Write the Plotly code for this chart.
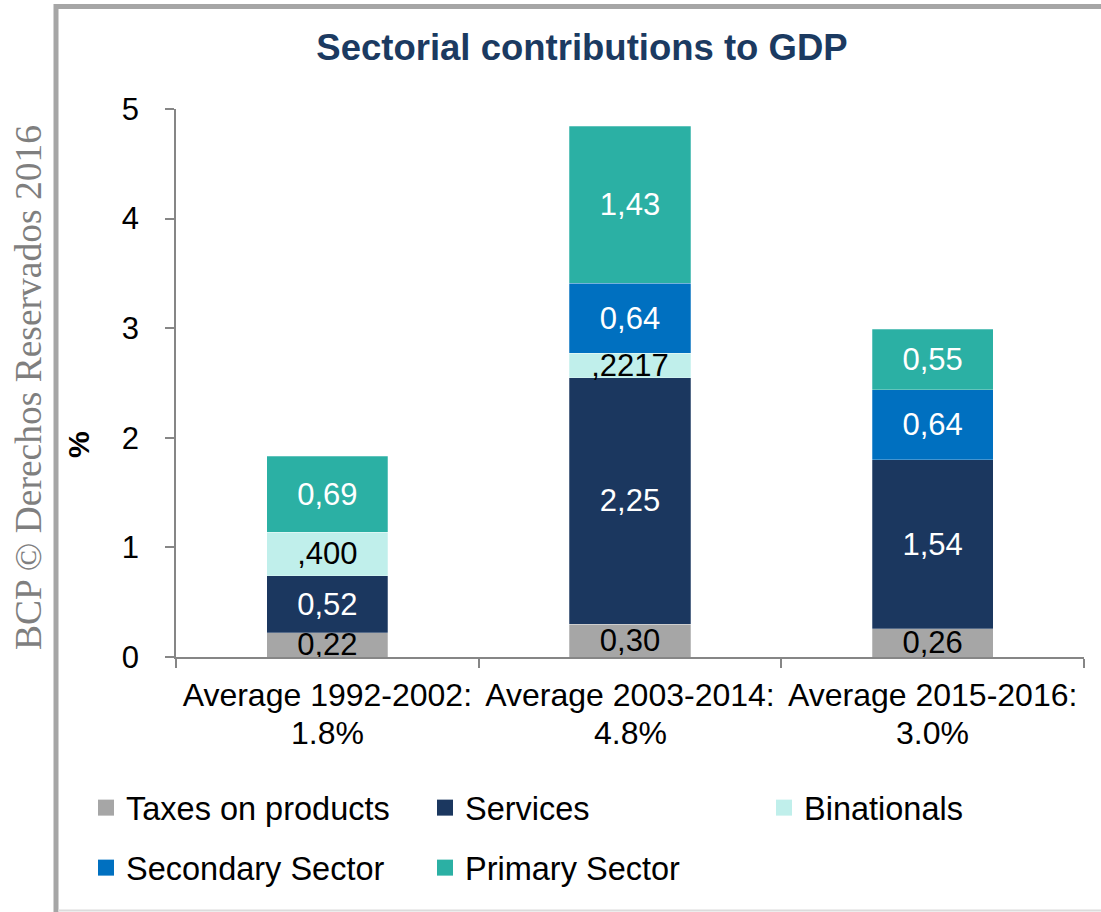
import plotly.graph_objects as go

# Periods on the x axis and their average GDP growth
periods = ["Average 1992-2002:", "Average 2003-2014:", "Average 2015-2016:"]
growth = ["1.8%", "4.8%", "3.0%"]

# Contributions to GDP growth (percentage points), stacked bottom to top
taxes = [0.22, 0.30, 0.26]
services = [0.52, 2.25, 1.54]
binationals = [0.400, 0.2217, None]
secondary = [None, 0.64, 0.64]
primary = [0.69, 1.43, 0.55]

# Binationals labels keep their own number format
binationals_text = [",400", ",2217", ""]

y_ticks = [0, 1, 2, 3, 4, 5]

FONT = "Liberation Sans"
W, H = 1101, 912
PL, PR, PT, PB = 176, 1084, 109, 657  # plot area in pixels


def comma(vals):
    return ["" if v is None else f"{v:.2f}".replace(".", ",") for v in vals]


def px_x(p):
    return (p - PL) / (PR - PL)


def px_y(p):
    return (PB - p) / (PB - PT)


series = [
    ("Taxes on products", taxes, comma(taxes), "#A6A6A6", "#000000", "legend"),
    ("Services", services, comma(services), "#1B375F", "#FFFFFF", "legend"),
    ("Binationals", binationals, binationals_text, "#C0EFEB", "#000000", "legend"),
    ("Secondary Sector", secondary, comma(secondary), "#0070C0", "#FFFFFF", "legend2"),
    ("Primary Sector", primary, comma(primary), "#2BB0A4", "#FFFFFF", "legend2"),
]

fig = go.Figure()

for name, vals, text, color, tcolor, leg in series:
    fig.add_trace(go.Bar(
        x=periods, y=vals, name=name, text=text,
        marker=dict(color=color, line=dict(width=0.75, color="rgba(255,255,255,0.35)")),
        textposition="inside", insidetextanchor="middle", constraintext="none",
        textangle=0, cliponaxis=False,
        textfont=dict(family=FONT, size=31, color=tcolor),
        width=0.4, showlegend=False, hoverinfo="skip",
    ))

# Legend entries with larger square swatches
for name, vals, text, color, tcolor, leg in series:
    fig.add_trace(go.Scatter(
        x=[None], y=[None], mode="markers", name=name, legend=leg,
        marker=dict(symbol="square", size=17, color=color, line=dict(width=0)),
        showlegend=True, hoverinfo="skip",
    ))

axis_grey = "#868686"
legend_common = dict(
    orientation="h", xref="paper", yref="paper",
    x=px_x(86), xanchor="left", yanchor="middle",
    entrywidth=294, entrywidthmode="pixels",
    font=dict(family=FONT, size=32.5, color="#000000"),
    bgcolor="rgba(0,0,0,0)", itemclick=False, itemdoubleclick=False,
    traceorder="normal",
)

fig.update_layout(
    width=W, height=H,
    margin=dict(l=PL, r=W - PR, t=PT, b=H - PB, pad=0, autoexpand=False),
    paper_bgcolor="white", plot_bgcolor="white",
    barmode="stack", bargap=0.6,
    font=dict(family=FONT, size=31, color="#000000"),
    title=dict(
        text="Sectorial contributions to GDP",
        x=582 / W, xref="container", xanchor="center",
        y=1 - 47 / H, yref="container", yanchor="middle",
        font=dict(family=FONT, size=36.5, color="#1B3A61", weight=700),
    ),
    xaxis=dict(
        type="category", categoryorder="array", categoryarray=periods,
        range=[-0.5, 2.5],
        tickvals=periods, ticktext=periods,
        tickson="boundaries", ticks="outside", ticklen=9,
        tickcolor=axis_grey, tickwidth=1.5,
        showline=True, linecolor=axis_grey, linewidth=1.5,
        showgrid=False, zeroline=False, fixedrange=True, automargin=False,
        tickfont=dict(family=FONT, size=32, color="#000000"),
        ticklabelstandoff=9,
    ),
    yaxis=dict(
        range=[0, 5], tickvals=y_ticks, ticktext=[str(t) for t in y_ticks],
        ticks="outside", ticklen=9, tickcolor=axis_grey, tickwidth=1.5,
        showline=True, linecolor=axis_grey, linewidth=1.5,
        showgrid=False, zeroline=False, fixedrange=True, automargin=False,
        tickfont=dict(family=FONT, size=31, color="#000000"),
        ticklabelstandoff=20,
    ),
    legend=dict(legend_common, y=px_y(808)),
    legend2=dict(legend_common, y=px_y(868)),
)

# Second line of each category label: average growth of the period
for p, g in zip(periods, growth):
    fig.add_annotation(
        text=g, x=p, xref="x", yref="paper", y=px_y(733),
        xanchor="center", yanchor="middle", showarrow=False,
        font=dict(family=FONT, size=32, color="#000000"),
    )

# Chart frame: heavy grey top/left edges, light bottom edge
frame = "#A6A6A6"
fig.add_shape(type="line", xref="paper", yref="paper",
              x0=px_x(56), x1=px_x(56), y0=px_y(4), y1=px_y(915),
              line=dict(color=frame, width=5))
fig.add_shape(type="line", xref="paper", yref="paper",
              x0=px_x(54), x1=px_x(1110), y0=px_y(6.5), y1=px_y(6.5),
              line=dict(color=frame, width=5))
fig.add_shape(type="line", xref="paper", yref="paper",
              x0=px_x(58), x1=px_x(1110), y0=px_y(910.5), y1=px_y(910.5),
              line=dict(color="#DCDCDC", width=2))

# Copyright note along the left edge
fig.add_annotation(
    text="BCP © Derechos Reservados 2016", xref="paper", yref="paper",
    x=px_x(28), y=px_y(388), xanchor="center", yanchor="middle",
    textangle=-90, showarrow=False,
    font=dict(family="Liberation Serif", size=37.5, color="#7F7F7F"),
)

# Y axis unit
fig.add_annotation(
    text="%", xref="paper", yref="paper",
    x=px_x(79), y=px_y(445), xanchor="center", yanchor="middle",
    textangle=-90, showarrow=False,
    font=dict(family=FONT, size=30, color="#000000", weight=700),
)

fig.write_html("out.html")
